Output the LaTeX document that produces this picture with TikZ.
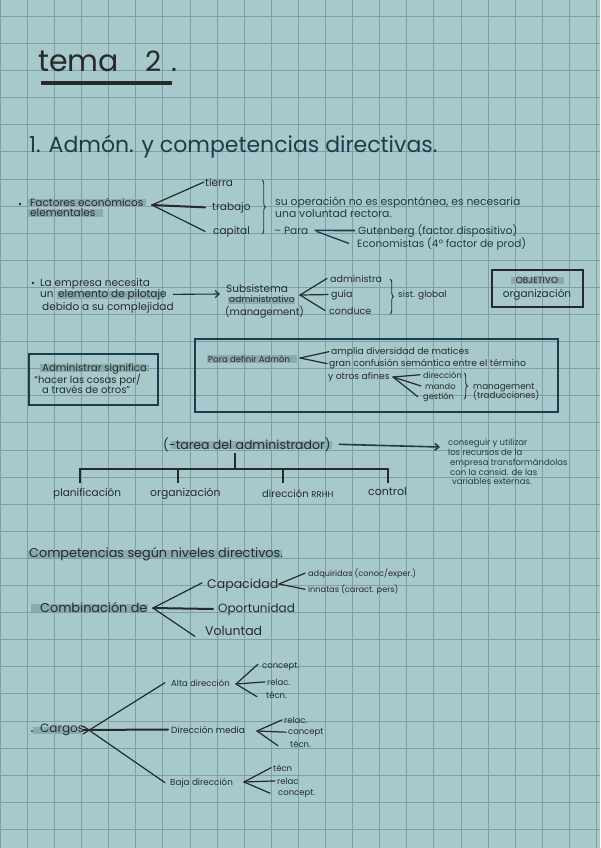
\documentclass[tikz,border=0pt]{standalone}
\usepackage{fontspec}
\setmainfont{Poppins}
\usetikzlibrary{arrows.meta,decorations.pathreplacing}
\definecolor{bg}{HTML}{A8C9CB}
\definecolor{gridc}{HTML}{7E9FA3}
\definecolor{ink}{HTML}{262A2B}
\definecolor{navy}{HTML}{1D3B4C}
\definecolor{hl}{HTML}{8BAAAF}
\begin{document}
\begin{tikzpicture}[x=1pt,y=-1pt,
  tx/.style={anchor=base west,inner sep=0pt,text=ink,font=\fontsize{#1}{#1}\selectfont},
  nv/.style={text=navy},
  br/.style={draw=ink,line width=1.2pt,line cap=round},
  brk/.style={br,line width=2pt},
  bx/.style={draw=navy,line width=1.4pt},
  hlr/.style={fill=hl},
  brc/.style={decorate,decoration={brace,amplitude=3.5pt},line width=0.9pt},
  arr/.style={line width=1.1pt,-{Straight Barb[length=4pt,width=7pt]}},
  dot/.style={circle,fill=ink,inner sep=0pt,minimum size=2.6pt}]
\fill[bg] (0,0) rectangle (600,848);
\useasboundingbox (0,0) rectangle (600,848);
\foreach \i in {0,...,22} \draw[gridc,line width=0.9pt] (0.3+27.1*\i,0) -- ++(0,848);
\foreach \j in {0,...,31} \draw[gridc,line width=0.9pt] (0,16.4+27.1*\j) -- ++(600,0);

% title
\node[tx=30] (tema) at (38,72) {tema};
\node[tx=28] (dos) at (145,72) {2};
\node[tx=28] (pt) at (171,72) {.};
\draw[ink,line width=3.5pt] (41,83) -- (172,83);
\node[tx=22,nv] (head) at (29,153) {1. Admón. y competencias directivas.};

% section 1
\node[dot] (b1) at (20,204) {};
\fill[hlr] (28,199) rectangle (146,207);
\fill[hlr] (28,209) rectangle (103,217);
\node[tx=10.5] (fac1) at (30,206) {Factores económicos};
\node[tx=10.5] (fac2) at (30,216) {elementales};
\coordinate (f0) at (152,205);
\node[tx=10.5] (tierra) at (205,186) {tierra};
\node[tx=10.5] (trabajo) at (212,210) {trabajo};
\node[tx=10.5] (capital) at (213,234) {capital};
\draw[br] (f0) -- ([xshift=-1pt]tierra.west);
\draw[brk] (f0) -- ([xshift=-7pt]trabajo.west);
\draw[br] (f0) -- ([xshift=-8pt]capital.west);
\coordinate (br1a) at (262,180); \coordinate (br1b) at (262,234);
\draw[brc,navy] (br1a) -- (br1b);
\node[tx=10.8,nv] (su1) at (275,205) {su operación no es espontánea, es necesaria};
\node[tx=10.8,nv] (su2) at (275,217) {una voluntad rectora.};
\node[tx=10.5,nv] (para) at (274,234) {– Para};
\node[tx=10.5,nv] (guten) at (358,234) {Gutenberg (factor dispositivo)};
\node[tx=10.5,nv] (econ) at (357,247) {Economistas (4º factor de prod)};
\draw[navy,line width=1.6pt] ([xshift=-3pt]guten.west) -- ([xshift=6pt]para.east);
\draw[navy,line width=1.3pt] ([xshift=-8pt]econ.west) -- ([xshift=8pt,yshift=-1pt]para.east);

% section 2
\node[dot] (b2) at (33,283) {};
\node[tx=10.5] (emp1) at (40,286) {La empresa necesita};
\fill[hlr] (57,291) rectangle (164,299);
\node[tx=10.5] (emp2a) at (40,297) {un};
\node[tx=10.5] (emp2b) at (58,297) {elemento de pilotaje};
\node[tx=10.5] (emp3) at (42,310) {debido a su complejidad};
\coordinate (arrA) at (220,294);
\draw[arr,ink] ([xshift=6pt]emp2b.east) -- (arrA);
\node[tx=10.5] (sub1) at (226,292) {Subsistema};
\fill[hlr] (228,297) rectangle (295,304);
\node[tx=9] (sub2) at (229,302) {administrativo};
\node[tx=10] (sub3) at (225,315) {(management)};
\coordinate (s0) at (300,295);
\node[tx=9.5] (adm) at (330,282) {administra};
\node[tx=9.5] (guia) at (331,297) {guía};
\node[tx=9.5] (cond) at (329,314) {conduce};
\draw[br] (s0) -- ([xshift=-3pt]adm.west);
\draw[br] (s0) -- ([xshift=-3pt]guia.west);
\draw[br] (s0) -- ([xshift=-4pt]cond.west);
\coordinate (br2a) at (390,279); \coordinate (br2b) at (390,314);
\draw[brc,ink] (br2a) -- (br2b);
\node[tx=9] (glob) at (398,297) {sist. global};
\node[draw=ink,line width=1.4pt,minimum width=91pt,minimum height=37pt,inner sep=0pt] (objbox) at (537.5,288.5) {};
\fill[hlr] (511,277) rectangle (564,284);
\node[tx=9,anchor=base] (obj1) at (537,283) {OBJETIVO};
\node[tx=10.5,anchor=base] (obj2) at (537,297) {organización};

% section 3
\node[bx,minimum width=129pt,minimum height=51pt,inner sep=0pt] (admbox) at (93.5,379.5) {};
\fill[hlr] (40,364) rectangle (146,372);
\node[tx=10.2] (as1) at (42,371) {Administrar significa:};
\node[tx=10] (as2) at (34,383) {“hacer las cosas por/};
\node[tx=10] (as3) at (42,393) {a través de otros”};
\node[bx,minimum width=363pt,minimum height=73pt,inner sep=0pt] (bigbox) at (376.5,375.5) {};
\fill[hlr] (207,355) rectangle (297,363);
\node[tx=8.5] (pda) at (208,362) {Para definir Admón};
\coordinate (p0) at (300,358);
\node[tx=9.2] (amp) at (331,354) {amplia diversidad de matices};
\node[tx=9.2] (gran) at (329,366) {gran confusión semántica entre el término};
\node[tx=9.2] (afi) at (328,379) {y otros afines};
\draw[br] (p0) -- ([xshift=-2pt]amp.west);
\draw[br] (p0) -- ([xshift=-2pt]gran.west);
\coordinate (a0) at (393,377);
\node[tx=8.3] (dir) at (423,378) {dirección};
\node[tx=8.3] (man) at (425,389) {mando};
\node[tx=8.3] (ges) at (423,399) {gestión};
\draw[br] (a0) -- ([xshift=-3pt]dir.west);
\draw[br] (a0) -- ([xshift=-4pt]man.west);
\draw[br] (a0) -- ([xshift=-5pt]ges.west);
\coordinate (br3a) at (464,373); \coordinate (br3b) at (464,399);
\draw[brc,ink] (br3a) -- (br3b);
\node[tx=8.8] (mgmt) at (473,389) {management};
\node[tx=8.8] (trad) at (473,398) {(traducciones)};

% section 4
\fill[hlr] (171,441) rectangle (332,449);
\node[tx=12.5] (tarea) at (163,449) {(-tarea del administrador)};
\coordinate (tt) at (235,453);
\coordinate (tb) at (235,469);
\coordinate (h1) at (80,469); \coordinate (h2) at (178,469);
\coordinate (h3) at (283,469); \coordinate (h4) at (388,469);
\node[tx=10.5] (plan) at (53,496) {planificación};
\node[tx=10.8] (org) at (150,496) {organización};
\node[tx=10] (dirr) at (262,497) {dirección {\fontsize{8.5}{8.5}\selectfont RRHH}};
\node[tx=11] (ctrl) at (368,495) {control};
\draw[ink,line width=1.3pt] (tt) -- (tb);
\draw[ink,line width=1.3pt] ([yshift=-14pt]h1) -- (h1) -- (h4) -- ([yshift=-14pt]h4);
\draw[ink,line width=1.3pt] (h2) -- ([yshift=-14pt]h2);
\draw[ink,line width=1.3pt] (h3) -- ([yshift=-14pt]h3);
\coordinate (consA) at (440,447);
\draw[arr,navy,line width=1.6pt] ([xshift=8pt]tarea.east) -- (consA);
\node[tx=8.5,nv] (c1) at (448,445) {conseguir y utilizar};
\node[tx=8.5,nv] (c2) at (448,455) {los recursos de la};
\node[tx=8.5,nv] (c3) at (450,465) {empresa transformándolas};
\node[tx=8.5,nv] (c4) at (450,475) {con la consid. de las};
\node[tx=8.5,nv] (c5) at (452,484) {variables externas.};

% section 5
\fill[hlr] (28,550) rectangle (282,558);
\node[tx=12.8] (comp) at (29,557) {Competencias según niveles directivos.};
\node[dot,minimum size=2pt] (b5) at (32,608) {};
\fill[hlr] (31,604) rectangle (148,612);
\node[tx=12.8] (comb) at (40,612) {Combinación de};
\coordinate (c0) at (153,608);
\node[tx=12.5] (cap) at (207,588) {Capacidad};
\node[tx=12] (opo) at (218,612) {Oportunidad};
\node[tx=12.5] (vol) at (205,635) {Voluntad};
\draw[br] (c0) -- ([xshift=-5pt,yshift=2pt]cap.west);
\draw[brk] (c0) -- ([xshift=-5pt]opo.west);
\draw[br] (c0) -- ([xshift=-10pt,yshift=-6pt]vol.west);
\coordinate (k0) at (279,584);
\node[tx=8.2] (adq) at (308,576) {adquiridas (conoc/exper.)};
\node[tx=8.2] (inn) at (308,592) {innatas (caract. pers)};
\draw[br] (k0) -- ([xshift=-3pt]adq.west);
\draw[br] (k0) -- ([xshift=-3pt]inn.west);

% section 6
\node[dot,minimum size=2pt] (b6) at (32,731) {};
\fill[hlr] (33,727) rectangle (82,734);
\node[tx=12] (cargos) at (40,732) {Cargos};
\coordinate (g0) at (83,730);
\node[tx=8.5] (alta) at (171,686) {Alta dirección};
\node[tx=9] (media) at (171,733) {Dirección media};
\node[tx=8.8] (baja) at (170,785) {Baja dirección};
\draw[br] ([yshift=-4pt]g0) -- ([xshift=-6pt]alta.west);
\draw[brk] (g0) -- ([xshift=-3pt]media.west);
\draw[br] ([yshift=4pt]g0) -- ([xshift=-5pt]baja.west);
% alta
\coordinate (ta0) at (236,684);
\node[tx=8.5] (ac) at (262,668) {concept.};
\node[tx=8.5] (ar) at (267,685) {relac.};
\node[tx=8.5] (at) at (266,698) {técn.};
\draw[br] (ta0) -- ([xshift=-4pt,yshift=2pt]ac.west);
\draw[br] (ta0) -- ([xshift=-2pt]ar.west);
\draw[br] (ta0) -- ([xshift=-9pt,yshift=-2pt]at.west);
% media
\coordinate (tm0) at (257,731);
\node[tx=8.5] (mr) at (284,723) {relac.};
\node[tx=8.5] (mc) at (288,734) {concept};
\node[tx=8.5] (mt) at (290,747) {técn.};
\draw[br] (tm0) -- ([xshift=-2pt]mr.west);
\draw[br] (tm0) -- ([xshift=-2pt]mc.west);
\draw[br] (tm0) -- ([xshift=-12pt,yshift=-2pt]mt.west);
% baja
\coordinate (tb0) at (244,782);
\node[tx=8.5] (bt) at (273,771) {técn};
\node[tx=8.5] (br) at (277,784) {relac};
\node[tx=8.5] (bc) at (278,795) {concept.};
\draw[br] (tb0) -- ([xshift=-2pt]bt.west);
\draw[br] (tb0) -- ([xshift=-2pt]br.west);
\draw[br] (tb0) -- ([xshift=-8pt]bc.west);
\end{tikzpicture}
\end{document}
